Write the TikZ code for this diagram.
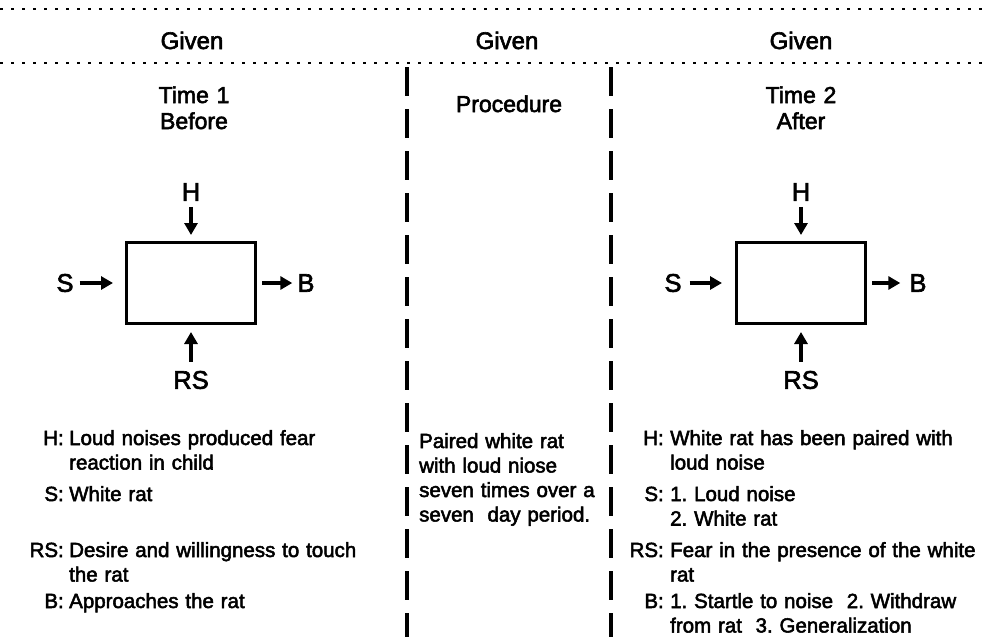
\documentclass[tikz,border=0pt]{standalone}
\usepackage{fontspec}
\setmainfont{Liberation Sans}[FakeBold=2.5]
\usetikzlibrary{arrows.meta}
\frenchspacing

\tikzstyle{dotline} = [line width=2.5pt, dash pattern=on 3pt off 8pt]
\tikzstyle{dashline} = [line width=3.5pt, dash pattern=on 29pt off 13pt]
\tikzstyle{heading} = [inner sep=0pt, anchor=base, font=\fontsize{24}{28}\selectfont]
\tikzstyle{subhead} = [inner sep=0pt, anchor=base, text width=160pt, align=center, font=\fontsize{23}{26}\selectfont]
\tikzstyle{box} = [rectangle, draw=black, line width=3pt, minimum width=129pt, minimum height=81pt]
\tikzstyle{letter} = [inner sep=0pt, font=\fontsize{25.5}{28}\selectfont]
\tikzstyle{arrow} = [line width=3.2pt, -{Triangle[length=12pt,width=13pt]}]
\tikzstyle{tag} = [inner sep=0pt, anchor=base east, font=\fontsize{20.5}{24.5}\selectfont]
\tikzstyle{entry} = [inner sep=0pt, anchor=base west, text width=320pt, align=left, font=\fontsize{20.5}{24.5}\selectfont]

\begin{document}
\begin{tikzpicture}[x=1pt, y=-1pt]
\useasboundingbox (0,0) rectangle (982,637);

% header rows and column rules
\draw [dotline] (0,9) -- (982,9);
\draw [dotline] (0,63) -- (982,63);
\draw [dashline] (407,67) -- (407,637);
\draw [dashline] (611,67) -- (611,637);

\node (given1) [heading] at (192,49) {Given};
\node (given2) [heading] at (507,49) {Given};
\node (given3) [heading] at (801,49) {Given};

\node (before) [subhead] at (194,103) {Time 1\\Before};
\node (procedure) [subhead] at (509,112) {Procedure};
\node (after) [subhead] at (801,103) {Time 2\\After};

% Time 1 model
\node (boxL) [box] at (191,283) {};
\node (hL) [letter, above of=boxL, node distance=91pt] {H};
\node (sL) [letter, left of=boxL, node distance=126pt] {S};
\node (bL) [letter, right of=boxL, node distance=115pt] {B};
\node (rsL) [letter, below of=boxL, node distance=97pt] {RS};

\draw [arrow, shorten <=6pt, shorten >=6pt] (hL) -- (boxL);
\draw [arrow, shorten <=6pt, shorten >=12pt] (sL) -- (boxL);
\draw [arrow, shorten <=5pt, shorten >=5pt] (boxL) -- (bL);
\draw [arrow, shorten <=9pt, shorten >=7pt] (rsL) -- (boxL);

% Time 2 model
\node (boxR) [box] at (801,283) {};
\node (hR) [letter, above of=boxR, node distance=91pt] {H};
\node (sR) [letter, left of=boxR, node distance=128pt] {S};
\node (bR) [letter, right of=boxR, node distance=117pt] {B};
\node (rsR) [letter, below of=boxR, node distance=97pt] {RS};

\draw [arrow, shorten <=6pt, shorten >=6pt] (hR) -- (boxR);
\draw [arrow, shorten <=8pt, shorten >=13pt] (sR) -- (boxR);
\draw [arrow, shorten <=5pt, shorten >=9pt] (boxR) -- (bR);
\draw [arrow, shorten <=9pt, shorten >=7pt] (rsR) -- (boxR);

% Time 1 legend
\node (tagHL) [tag] at (64,445) {H:};
\node (txtHL) [entry] at (69,445) {Loud noises produced fear\\reaction in child};
\node (tagSL) [tag] at (64,501) {S:};
\node (txtSL) [entry] at (69,501) {White rat};
\node (tagRL) [tag] at (64,557) {RS:};
\node (txtRL) [entry] at (69,557) {Desire and willingness to touch\\the rat};
\node (tagBL) [tag] at (64,608) {B:};
\node (txtBL) [entry] at (69,608) {Approaches the rat};

% procedure
\node (txtP) [entry, text width=185pt] at (419,448) {Paired white rat\\with loud niose\\seven times over a\\seven\ \ day period.};

% Time 2 legend
\node (tagHR) [tag] at (664,445) {H:};
\node (txtHR) [entry] at (670,445) {White rat has been paired with\\loud noise};
\node (tagSR) [tag] at (664,501) {S:};
\node (txtSR) [entry] at (670,501) {1. Loud noise\\2. White rat};
\node (tagRR) [tag] at (664,557) {RS:};
\node (txtRR) [entry] at (670,557) {Fear in the presence of the white\\rat};
\node (tagBR) [tag] at (664,608) {B:};
\node (txtBR) [entry] at (670,608) {1. Startle to noise\ \ 2. Withdraw\\from rat\ \ 3. Generalization};

\end{tikzpicture}
\end{document}
